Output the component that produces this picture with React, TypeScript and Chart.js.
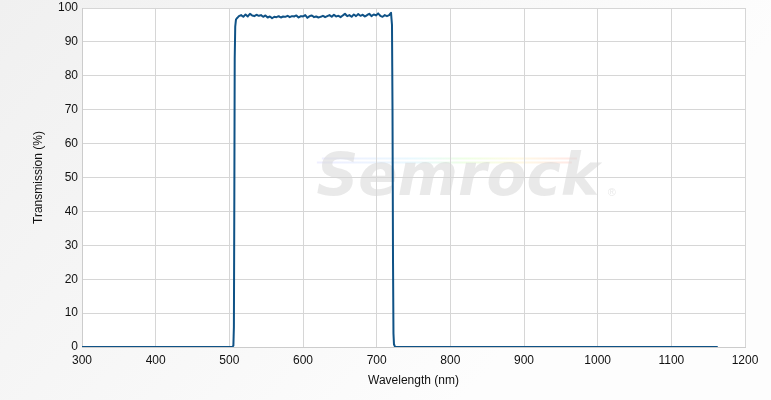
import React, { useEffect, useRef } from "react";
import { Chart, registerables } from "chart.js";

Chart.register(...registerables);

const wavelengths: number[] = [
  300, 400, 500, 504, 505.5, 506.2, 506.8, 507.3, 508, 509,
  510, 513, 516, 519, 522, 525, 528, 531, 534, 537, 540, 543, 546, 549, 552, 555, 558,
  561, 564, 567, 570, 573, 576, 579, 582, 585, 588, 591, 594, 597, 600, 603, 606, 609,
  612, 615, 618, 621, 624, 627, 630, 633, 636, 639, 642, 645, 648, 651, 654, 657, 660,
  663, 666, 669, 672, 675, 678, 681, 684, 687, 690, 693, 696, 699, 702, 705, 708, 711,
  714, 717, 719.5, 720.8, 721.5, 722.2, 722.8, 723.5, 725, 800, 1000, 1163,
];

const transmission: number[] = [
  0, 0, 0, 0, 0.4, 6, 45, 85, 94.5, 96.6,
  96.9, 97.6, 97.9, 97.4, 98.1, 97.5, 98.3, 97.8, 97.6, 98.0, 97.7, 97.9, 97.4, 97.8, 97.2, 97.5, 97.0,
  97.4, 97.3, 97.6, 97.2, 97.5, 97.4, 97.7, 97.3, 97.6, 97.5, 97.8, 97.2, 97.6, 97.5, 97.9, 97.1, 97.6,
  97.8, 97.3, 97.5, 97.2, 97.4, 97.7, 97.3, 97.6, 97.9, 97.4, 98.0, 97.5, 97.7, 97.3, 97.8, 98.3, 97.6,
  97.9, 97.4, 98.1, 97.6, 98.2, 97.7, 98.0, 97.5, 97.9, 98.3, 97.6, 98.1, 97.8, 98.4, 97.7, 97.4, 97.9,
  97.6, 97.9, 98.6, 95, 70, 25, 4, 0.8, 0, 0, 0, 0,
];

const xTicks = { min: 300, max: 1200, step: 100 };
const yTicks = { min: 0, max: 100, step: 10 };
const xTitle = "Wavelength (nm)";
const yTitle = "Transmission (%)";
const watermark = "Semrock";

const FONT = "'Liberation Sans', Arial, sans-serif";

export default function App() {
  const ref = useRef<HTMLCanvasElement | null>(null);

  useEffect(() => {
    document.body.style.margin = "0";
    const canvas = ref.current;
    if (!canvas) return;

    const bgPlugin = {
      id: "bg",
      beforeDraw(chart: any) {
        const { ctx, width, height, chartArea } = chart;
        ctx.save();
        const g = ctx.createLinearGradient(0, 0, width * 0.6, height);
        g.addColorStop(0, "#f0f0f0");
        g.addColorStop(1, "#fdfdfd");
        ctx.fillStyle = g;
        ctx.fillRect(0, 0, width, height);
        ctx.fillStyle = "#ffffff";
        ctx.fillRect(chartArea.left, chartArea.top, chartArea.right - chartArea.left, chartArea.bottom - chartArea.top);

        // watermark
        const cx = chartArea.left + (chartArea.right - chartArea.left) * 0.573;
        const cy = chartArea.top + (chartArea.bottom - chartArea.top) * 0.5;
        const rg = ctx.createLinearGradient(cx - 140, 0, cx + 120, 0);
        rg.addColorStop(0, "rgba(180,180,255,0.22)");
        rg.addColorStop(0.35, "rgba(170,230,255,0.25)");
        rg.addColorStop(0.55, "rgba(200,255,170,0.3)");
        rg.addColorStop(0.75, "rgba(255,240,170,0.3)");
        rg.addColorStop(1, "rgba(255,170,170,0.3)");
        ctx.fillStyle = rg;
        ctx.fillRect(cx - 140, cy - 20, 255, 2);
        ctx.fillRect(cx - 145, cy - 16, 255, 2);
        ctx.font = `italic bold 58px 'DejaVu Sans', ${FONT}`;
        ctx.fillStyle = "rgba(215,215,215,0.55)";
        ctx.textAlign = "center";
        ctx.textBaseline = "middle";
        ctx.fillText(watermark, cx - 4, cy + 2);
        ctx.font = `11px ${FONT}`;
        ctx.fillText("®", cx + 150, cy + 15);
        ctx.restore();
      },
    };

    const chart = new Chart(canvas, {
      type: "line",
      data: {
        datasets: [
          {
            data: wavelengths.map((x, i) => ({ x, y: transmission[i] })),
            borderColor: "#0f5286",
            borderWidth: 2,
            borderJoinStyle: "round",
            pointRadius: 0,
            fill: false,
            tension: 0.0001,
          },
        ],
      },
      options: {
        responsive: false,
        animation: false,
        layout: { padding: { left: 0, top: 8, right: 26, bottom: 0 } },
        plugins: { legend: { display: false }, tooltip: { enabled: false } },
        scales: {
          x: {
            type: "linear",
            min: xTicks.min,
            max: xTicks.max,
            ticks: {
              stepSize: xTicks.step,
              padding: 6,
              color: "#111",
              font: { family: FONT, size: 12 },
              maxRotation: 0,
              callback: (v: any) => String(v),
            },
            grid: { color: "#d6d6d6", drawTicks: false, lineWidth: 1 },
            border: { color: "#cccccc" },
            title: {
              display: true,
              text: xTitle,
              color: "#111",
              font: { family: FONT, size: 12 },
              padding: { top: 0, bottom: 12 },
            },
            afterFit(scale: any) {
              scale.height = 53;
              scale.paddingLeft = 0;
              scale.paddingRight = 0;
            },
          },
          y: {
            min: yTicks.min,
            max: yTicks.max,
            ticks: {
              stepSize: yTicks.step,
              padding: 4,
              color: "#111",
              font: { family: FONT, size: 12 },
              callback: (v: any) => String(v),
            },
            grid: { color: "#d6d6d6", drawTicks: false, lineWidth: 1 },
            border: { color: "#cccccc" },
            title: {
              display: true,
              text: yTitle,
              color: "#111",
              font: { family: FONT, size: 12 },
              padding: { top: 31, bottom: 0 },
            },
            afterFit(scale: any) {
              scale.width = 82;
              scale.paddingTop = 0;
              scale.paddingBottom = 0;
            },
          },
        },
      } as any,
      plugins: [bgPlugin],
    });

    return () => chart.destroy();
  }, []);

  return (
    <div style={{ width: 771, height: 400 }}>
      <canvas ref={ref} width={771} height={400} style={{ display: "block" }} />
    </div>
  );
}
